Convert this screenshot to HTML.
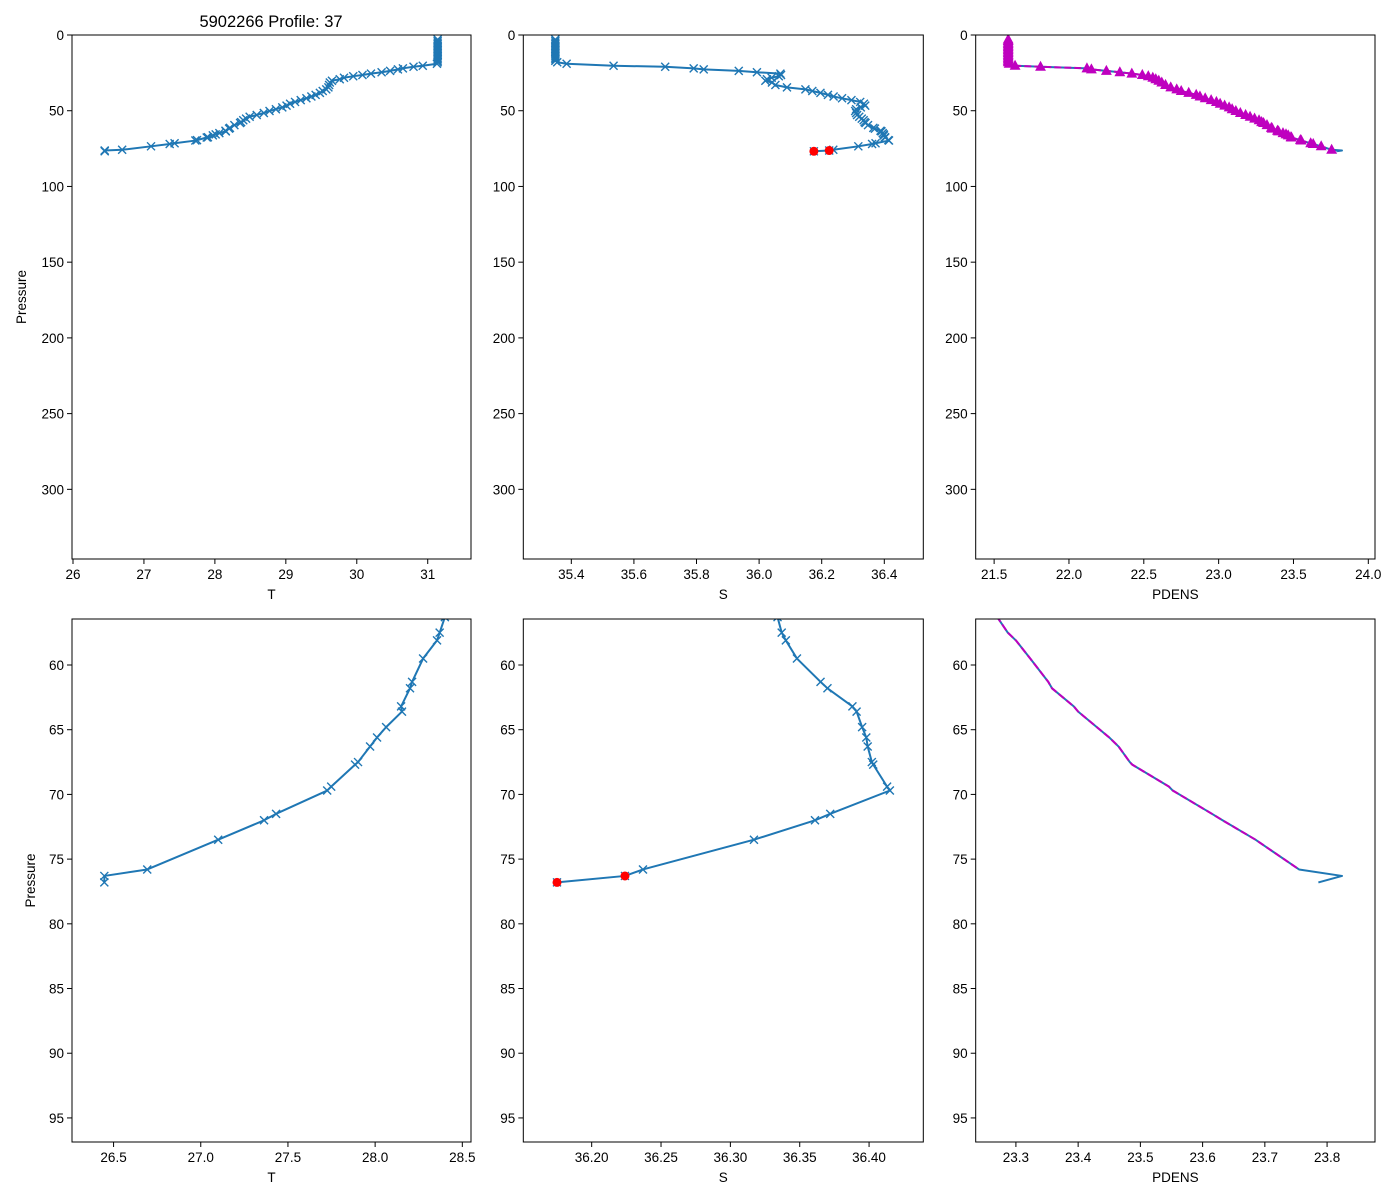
<!DOCTYPE html>
<html><head><meta charset="utf-8">
<style>
html,body{margin:0;padding:0;background:#fff;}
svg{display:block;font-family:"Liberation Sans","DejaVu Sans",sans-serif;}
</style></head>
<body>
<svg id="fig" width="1400" height="1200" xmlns="http://www.w3.org/2000/svg"></svg>
<script>
const pressure = [3,4,5,6,7,8,9,10,11,12,13,14,15,16,17,18,19,20.3,21,22,22.7,23.7,24.6,25.5,26.4,27.2,28.2,29.2,30.2,31.4,33,34.6,35.9,37,38.2,39.5,40.6,41.8,43,44.2,45.4,46.6,47.8,49,50.2,51.5,52.8,54,55.2,56.3,57.5,58.1,59.5,61.3,61.8,63.2,63.6,64.8,65.6,66.3,67.5,67.7,69.4,69.7,71.5,72,73.5,75.8,76.3,76.8];
const temperature = [31.14,31.14,31.14,31.14,31.14,31.14,31.14,31.14,31.14,31.14,31.14,31.14,31.14,31.14,31.14,31.14,31.13,30.93,30.8,30.65,30.58,30.47,30.35,30.2,30.08,29.95,29.82,29.76,29.65,29.62,29.61,29.6,29.57,29.52,29.48,29.42,29.36,29.29,29.21,29.13,29.06,29.01,28.95,28.86,28.77,28.69,28.59,28.49,28.44,28.40,28.37,28.355,28.275,28.212,28.20,28.149,28.154,28.063,28.011,27.971,27.902,27.885,27.748,27.725,27.432,27.363,27.10,26.693,26.447,26.447];
const salinity = [35.349,35.349,35.349,35.349,35.349,35.349,35.349,35.349,35.349,35.349,35.349,35.349,35.349,35.349,35.349,35.355,35.385,35.535,35.70,35.791,35.823,35.935,35.993,36.068,36.07,36.063,36.04,36.025,36.02,36.041,36.052,36.089,36.148,36.17,36.196,36.22,36.238,36.265,36.295,36.323,36.335,36.339,36.325,36.31,36.307,36.31,36.313,36.32,36.328,36.334,36.337,36.340,36.348,36.365,36.370,36.388,36.391,36.395,36.398,36.399,36.402,36.403,36.413,36.415,36.372,36.361,36.317,36.237,36.224,36.175];
const pdens = [21.594,21.594,21.594,21.594,21.594,21.594,21.594,21.594,21.594,21.594,21.594,21.594,21.594,21.594,21.594,21.594,21.60,21.64,21.81,22.12,22.15,22.25,22.34,22.42,22.49,22.53,22.56,22.58,22.60,22.62,22.645,22.68,22.72,22.75,22.80,22.85,22.875,22.91,22.95,22.985,23.01,23.04,23.07,23.09,23.115,23.145,23.18,23.21,23.24,23.27,23.287,23.30,23.323,23.352,23.358,23.393,23.40,23.43,23.45,23.465,23.483,23.487,23.546,23.552,23.615,23.632,23.685,23.755,23.824,23.786];
const badFlags = [0,0,0,0,0,0,0,0,0,0,0,0,0,0,0,0,0,0,0,0,0,0,0,0,0,0,0,0,0,0,0,0,0,0,0,0,0,0,0,0,0,0,0,0,0,0,0,0,0,0,0,0,0,0,0,0,0,0,0,0,0,0,0,0,0,0,0,0,1,1];
const topYTicks = [0,50,100,150,200,250,300];
const botYTicks = [60,65,70,75,80,85,90,95];
const tTicksTop = ["26","27","28","29","30","31"];
const sTicksTop = ["35.4","35.6","35.8","36.0","36.2","36.4"];
const dTicksTop = ["21.5","22.0","22.5","23.0","23.5","24.0"];
const tTicksBot = ["26.5","27.0","27.5","28.0","28.5"];
const sTicksBot = ["36.20","36.25","36.30","36.35","36.40"];
const dTicksBot = ["23.3","23.4","23.5","23.6","23.7","23.8"];

const NS="http://www.w3.org/2000/svg";
const fig=document.getElementById('fig');
function mk(tag,attrs,parent){const e=document.createElementNS(NS,tag);for(const k in attrs)e.setAttribute(k,attrs[k]);(parent||fig).appendChild(e);return e;}

const BLUE="#1f77b4", MAG="#bf00bf";
const panels=[
 {id:'t-top',x0:72,x1:471,y0:35,y1:559,xmin:25.986,xmax:31.61,ymin:0,ymax:346,xs:temperature,xt:tTicksTop,yt:topYTicks,xl:'T',mark:'x',ylab:true},
 {id:'s-top',x0:523.3,x1:923.3,y0:35,y1:559,xmin:35.2466,xmax:36.5246,ymin:0,ymax:346,xs:salinity,xt:sTicksTop,yt:topYTicks,xl:'S',mark:'x',red:true},
 {id:'pdens-top',x0:975.7,x1:1375,y0:35,y1:559,xmin:21.3769,xmax:24.0447,ymin:0,ymax:346,xs:pdens,xt:dTicksTop,yt:topYTicks,xl:'PDENS',mark:'tri'},
 {id:'t-bottom',x0:72,x1:471,y0:619,y1:1142,xmin:26.2616,xmax:28.5498,ymin:56.445,ymax:96.86,xs:temperature,xt:tTicksBot,yt:botYTicks,xl:'T',mark:'x',ylab:true},
 {id:'s-bottom',x0:523.3,x1:923.3,y0:619,y1:1142,xmin:36.1507,xmax:36.4391,ymin:56.445,ymax:96.86,xs:salinity,xt:sTicksBot,yt:botYTicks,xl:'S',mark:'x',red:true},
 {id:'pdens-bottom',x0:975.7,x1:1375,y0:619,y1:1142,xmin:23.2354,xmax:23.8770,ymin:56.445,ymax:96.86,xs:pdens,xt:dTicksBot,yt:botYTicks,xl:'PDENS',mark:'none'}
];

const title=mk('text',{x:271,y:27,'text-anchor':'middle','font-size':'16.5',fill:'#000'});


title.textContent='5902266 Profile: 37';

panels.forEach((p,pi)=>{
  const g=mk('g',{});
  
  
  const sx=v=>p.x0+(v-p.xmin)/(p.xmax-p.xmin)*(p.x1-p.x0);
  const sy=v=>p.y0+(v-p.ymin)/(p.ymax-p.ymin)*(p.y1-p.y0);
  const cp=mk('clipPath',{id:'clip'+pi},g);
  mk('rect',{x:p.x0,y:p.y0,width:p.x1-p.x0,height:p.y1-p.y0},cp);
  const plot=mk('g',{'clip-path':'url(#clip'+pi+')'},g);
  
  
  // line
  const pts=pressure.map((pr,i)=>sx(p.xs[i]).toFixed(2)+','+sy(pr).toFixed(2)).join(' ');
  const line=mk('polyline',{points:pts,fill:'none',stroke:BLUE,'stroke-width':2,'stroke-linejoin':'round'},plot);
  
  
  if(p.xl==='PDENS'){
    const goodIdx=pressure.map((_,i)=>i).filter(i=>!badFlags[i]);
    const mp=goodIdx.map(i=>sx(p.xs[i]).toFixed(2)+','+sy(pressure[i]).toFixed(2)).join(' ');
    const ml=mk('polyline',{points:mp,fill:'none',stroke:MAG,'stroke-width':2,'stroke-dasharray':'7,3'},plot);
    
    
    if(p.mark==='tri'){
      goodIdx.forEach(i=>{
        const cx=sx(p.xs[i]),cy=sy(pressure[i]);
        const t=mk('polygon',{points:`${cx},${cy-5} ${cx-4.6},${cy+3.5} ${cx+4.6},${cy+3.5}`,fill:MAG,stroke:MAG,'stroke-width':1},plot);
        
        
      });
    }
  }
  if(p.mark==='x'){
    pressure.forEach((pr,i)=>{
      const cx=sx(p.xs[i]),cy=sy(pr),r=4;
      const m=mk('path',{d:`M${cx-r},${cy-r}L${cx+r},${cy+r}M${cx-r},${cy+r}L${cx+r},${cy-r}`,stroke:BLUE,'stroke-width':1.4,fill:'none'},plot);
      
      
    });
  }
  if(p.red){
    pressure.forEach((pr,i)=>{
      if(!badFlags[i])return;
      const c=mk('circle',{cx:sx(p.xs[i]),cy:sy(pr),r:4.5,fill:'#ff0000'},plot);
      
      
    });
  }
  // frame
  const fr=mk('rect',{x:p.x0,y:p.y0,width:p.x1-p.x0,height:p.y1-p.y0,fill:'none',stroke:'#000','stroke-width':1},g);
  
  
  // x ticks
  p.xt.forEach(lbl=>{
    const v=parseFloat(lbl),x=sx(v);
    mk('line',{x1:x,y1:p.y1,x2:x,y2:p.y1+5,stroke:'#000','stroke-width':1},g);
    const t=mk('text',{x:x,y:p.y1+20,'text-anchor':'middle','font-size':'13.5',fill:'#000'},g);
    
    
    t.textContent=lbl;
  });
  const xl=mk('text',{x:(p.x0+p.x1)/2,y:p.y1+40,'text-anchor':'middle','font-size':'13.5',fill:'#000'},g);
  
  
  xl.textContent=p.xl;
  p.yt.forEach(v=>{
    const y=sy(v);
    mk('line',{x1:p.x0-5,y1:y,x2:p.x0,y2:y,stroke:'#000','stroke-width':1},g);
    const t=mk('text',{x:p.x0-8,y:y+5,'text-anchor':'end','font-size':'13.5',fill:'#000'},g);
    
    
    t.textContent=String(v);
  });
  if(p.ylab){
    const cy=(p.y0+p.y1)/2;
    const lx=pi===0?26:35;
    const yl=mk('text',{x:lx,y:cy,'text-anchor':'middle','font-size':'13.5',fill:'#000',transform:`rotate(-90 ${lx} ${cy})`},g);
    
    
    yl.textContent='Pressure';
  }
});
</script>
</body></html>
